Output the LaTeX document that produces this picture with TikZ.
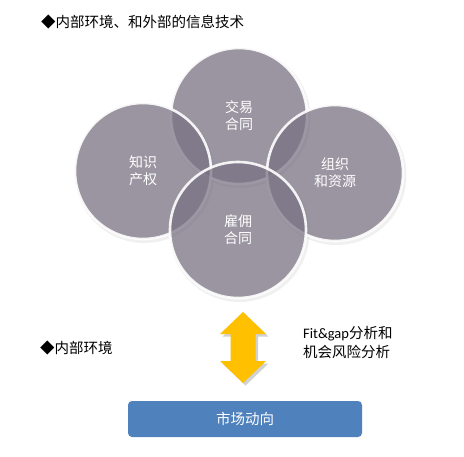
\documentclass[tikz,border=0pt]{standalone}
\usepackage{fontspec}
\setmainfont{Noto Sans CJK SC}
\newfontfamily\latinf{Carlito}
\usetikzlibrary{shadows}
\definecolor{circfill}{RGB}{121,114,131}
\definecolor{arrowyel}{RGB}{255,192,0}
\definecolor{boxblue}{RGB}{79,129,189}
\tikzset{
  circ/.style={circle, minimum size=136pt, inner sep=0pt, fill=circfill, fill opacity=0.72,
    draw=white, draw opacity=0.9, line width=2.6pt, text=white, text opacity=1,
    align=center, font=\fontsize{14}{17}\selectfont},
  circshadow/.style={circle, minimum size=140pt, inner sep=0pt, fill=black, fill opacity=0.06},
  label/.style={font=\fontsize{14.5}{19}\selectfont, align=left, inner sep=0pt},
  arrowshape/.style={fill=arrowyel},
}
\begin{document}
\begin{tikzpicture}[x=1pt,y=-1pt]
\useasboundingbox (0,0) rectangle (464,456);
\fill[white] (0,0) rectangle (464,456);
% title
\node[label, anchor=west] (title) at (41,22) {◆内部环境、和外部的信息技术};
% soft shadows
\node[circshadow] at (240.5,118) {};
\node[circshadow] at (144.5,173) {};
\node[circshadow] at (336.5,175) {};
\node[circshadow] at (239.5,232) {};
% circles
\node[circ] (top) at (239,116) {交易\\合同};
\node[circ] (left) at (143,171) {知识\\产权};
\node[circ] (right) at (335,173) {组织\\和资源};
\node[circ] (bottom) at (238,230) {雇佣\\合同};
% double arrow (shape)
\fill[black, opacity=0.18, xshift=2.5pt, yshift=-2.5pt]
  (243,312) -- (266,334) -- (255.5,334) -- (255.5,361) -- (266,361) -- (243,383)
  -- (220,361) -- (230.5,361) -- (230.5,334) -- (220,334) -- cycle;
\fill[arrowshape]
  (243,312) -- (266,334) -- (255.5,334) -- (255.5,361) -- (266,361) -- (243,383)
  -- (220,361) -- (230.5,361) -- (230.5,334) -- (220,334) -- cycle;
\coordinate (arrow) at (243,347.5);
% labels
\node[label, anchor=west] (inner) at (40,348) {◆内部环境};
\node[label, anchor=north west] (fit) at (303,326) {{\latinf Fit\&gap}分析和\\机会风险分析};
% box
\node[fill=boxblue, rounded corners=4pt, minimum width=234pt, minimum height=36pt, inner sep=0pt,
  text=white, font=\fontsize{14.5}{17}\selectfont] (market) at (245,419) {市场动向};
\end{tikzpicture}
\end{document}
